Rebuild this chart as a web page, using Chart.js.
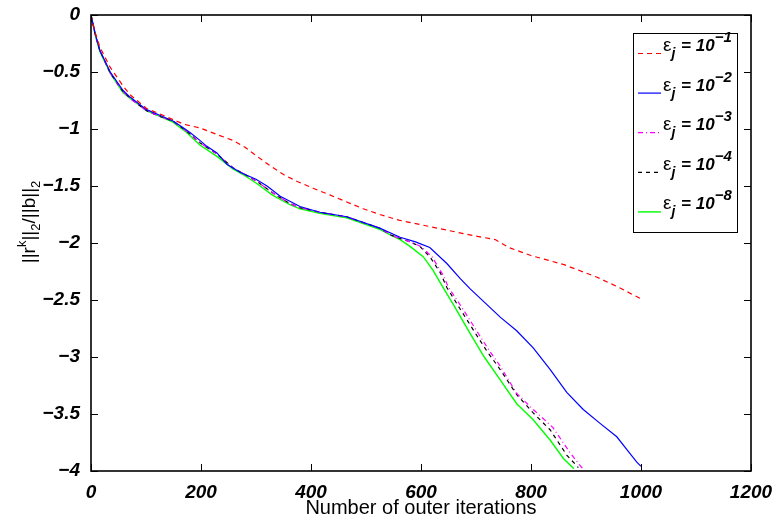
<!DOCTYPE html>
<html lang="en">
<head>
<meta charset="UTF-8">
<title>Relative residual vs outer iterations</title>
<script src="https://cdn.jsdelivr.net/npm/chart.js"></script>
<style>
    body { margin: 0; background: #fff; }
    #wrap { position: relative; width: 776px; height: 531px; }
</style>
</head>
<body>
<div id="wrap"><canvas id="resChart" width="776" height="531"></canvas></div>
<script>
// tick values
const xTicks = [0, 200, 400, 600, 800, 1000, 1200];
const yTicks = [0, -0.5, -1, -1.5, -2, -2.5, -3, -3.5, -4];

// legend exponents (eps_j = 10^-k)
const legendExps = ['1', '2', '3', '4', '8'];

// eps = 1e-1 (red dashed)
const redX = [0, 8, 16, 35, 58, 71, 101, 131, 150, 170, 198, 230, 258, 280, 302, 325, 350, 375, 404, 435, 465, 495, 525, 560, 600, 650, 700, 735, 760, 800, 860, 920, 960, 1000];
const redY = [0, -0.16, -0.28, -0.46, -0.62, -0.70, -0.82, -0.88, -0.92, -0.96, -0.99, -1.05, -1.10, -1.16, -1.24, -1.32, -1.40, -1.46, -1.52, -1.58, -1.64, -1.70, -1.75, -1.80, -1.84, -1.89, -1.94, -1.97, -2.04, -2.11, -2.19, -2.30, -2.39, -2.49];

// eps = 1e-2 (blue)
const blueX = [0, 8, 16, 35, 58, 71, 101, 125, 149, 165, 180, 198, 210, 229, 247, 271, 300, 320, 344, 380, 416, 465, 525, 562, 590, 616, 647, 671, 689, 744, 774, 804, 835, 865, 895, 925, 956, 974, 992, 1000];
const blueY = [0, -0.17, -0.31, -0.50, -0.66, -0.72, -0.83, -0.88, -0.93, -0.98, -1.03, -1.10, -1.15, -1.21, -1.31, -1.38, -1.44, -1.50, -1.59, -1.68, -1.73, -1.77, -1.87, -1.95, -1.99, -2.04, -2.18, -2.31, -2.40, -2.65, -2.77, -2.92, -3.11, -3.31, -3.46, -3.58, -3.70, -3.81, -3.92, -3.96];

// eps = 1e-3 (magenta dash-dot)
const magX = [0, 8, 16, 35, 58, 71, 101, 125, 149, 174, 198, 229, 258, 280, 302, 330, 360, 380, 416, 465, 525, 545, 562, 580, 600, 620, 640, 650, 675, 705, 725, 744, 774, 804, 840, 871, 894];
const magY = [0, -0.18, -0.31, -0.51, -0.67, -0.73, -0.84, -0.89, -0.93, -1.02, -1.12, -1.22, -1.34, -1.40, -1.46, -1.56, -1.65, -1.69, -1.73, -1.77, -1.87, -1.93, -1.96, -1.99, -2.03, -2.12, -2.28, -2.39, -2.57, -2.80, -2.95, -3.08, -3.32, -3.46, -3.62, -3.84, -3.98];

// eps = 1e-4 (black dashed)
const blackX = [0, 8, 16, 35, 58, 71, 101, 125, 149, 174, 198, 229, 258, 280, 302, 330, 360, 380, 416, 465, 525, 545, 562, 580, 598, 616, 635, 647, 670, 700, 720, 744, 774, 804, 835, 865, 886];
const blackY = [0, -0.18, -0.31, -0.51, -0.67, -0.73, -0.84, -0.89, -0.93, -1.02, -1.12, -1.22, -1.34, -1.40, -1.46, -1.56, -1.65, -1.69, -1.73, -1.77, -1.87, -1.93, -1.96, -1.99, -2.03, -2.12, -2.26, -2.39, -2.57, -2.80, -2.95, -3.11, -3.33, -3.49, -3.64, -3.86, -3.97];

// eps = 1e-8 (green)
const greenX = [0, 8, 16, 35, 58, 71, 101, 125, 149, 174, 198, 229, 258, 280, 302, 330, 360, 380, 416, 465, 525, 545, 562, 580, 604, 622, 640, 660, 690, 715, 744, 774, 804, 835, 859, 878];
const greenY = [0, -0.18, -0.32, -0.51, -0.68, -0.73, -0.84, -0.89, -0.94, -1.03, -1.14, -1.24, -1.35, -1.41, -1.48, -1.58, -1.66, -1.70, -1.74, -1.78, -1.88, -1.93, -1.97, -2.03, -2.12, -2.24, -2.39, -2.55, -2.80, -3.00, -3.20, -3.41, -3.55, -3.73, -3.89, -3.98];

const FONT = "'Liberation Sans', Arial, Helvetica, sans-serif";

function pts(xs, ys) {
    return xs.map((x, i) => ({ x: x, y: ys[i] }));
}

function minusFmt(v) {
    return v === 0 ? '0' : '\u2212' + String(Math.abs(v));
}

// draw a run of text pieces with their own font and vertical shift
function drawPieces(ctx, pieces, x, y, center) {
    let w = 0;
    pieces.forEach(p => { ctx.font = p.font; w += ctx.measureText(p.t).width + (p.gap || 0); });
    let cx = center ? x - w / 2 : x;
    pieces.forEach(p => {
        ctx.font = p.font;
        ctx.fillText(p.t, cx, y + (p.dy || 0));
        cx += ctx.measureText(p.t).width + (p.gap || 0);
    });
}

const framePlugin = {
    id: 'frame',
    afterDatasetsDraw(chart) {
        const ctx = chart.ctx;
        const a = chart.chartArea;
        const xs = chart.scales.x, ys = chart.scales.y;
        ctx.save();
        ctx.strokeStyle = '#000';
        ctx.lineWidth = 1.6;
        ctx.setLineDash([]);
        ctx.strokeRect(a.left, a.top, a.right - a.left, a.bottom - a.top);

        // inward ticks on all four sides
        ctx.lineWidth = 1;
        ctx.beginPath();
        xTicks.forEach(v => {
            const px = Math.round(xs.getPixelForValue(v)) + 0.5;
            ctx.moveTo(px, a.bottom); ctx.lineTo(px, a.bottom - 7);
            ctx.moveTo(px, a.top); ctx.lineTo(px, a.top + 7);
        });
        yTicks.forEach(v => {
            const py = Math.round(ys.getPixelForValue(v)) + 0.5;
            ctx.moveTo(a.left, py); ctx.lineTo(a.left + 7, py);
            ctx.moveTo(a.right, py); ctx.lineTo(a.right - 7, py);
        });
        ctx.stroke();

        // x title
        ctx.fillStyle = '#000';
        ctx.textAlign = 'center';
        ctx.textBaseline = 'middle';
        ctx.font = '20px ' + FONT;
        ctx.fillText('Number of outer iterations', (a.left + a.right) / 2, 508);

        // y title, rotated
        ctx.save();
        ctx.translate(28, 222);
        ctx.rotate(-Math.PI / 2);
        ctx.textAlign = 'left';
        ctx.textBaseline = 'alphabetic';
        const big = '19px ' + FONT, small = '13px ' + FONT;
        drawPieces(ctx, [
            { t: '||r', font: big },
            { t: 'k', font: small, dy: -9 },
            { t: '||', font: big },
            { t: '2', font: small, dy: 5 },
            { t: '/||b||', font: big },
            { t: '2', font: small, dy: 5 }
        ], 0, 7, true);
        ctx.restore();

        // legend box
        const lx = 633, ly = 33, lw = 104, lh = 199;
        ctx.fillStyle = '#fff';
        ctx.fillRect(lx, ly, lw, lh);
        ctx.strokeStyle = '#000';
        ctx.lineWidth = 1;
        ctx.strokeRect(lx + 0.5, ly + 0.5, lw, lh);
        chart.data.datasets.forEach((ds, i) => {
            const base = 51 + i * 39.6;
            ctx.strokeStyle = ds.borderColor;
            ctx.lineWidth = ds.borderWidth;
            ctx.setLineDash(ds.borderDash || []);
            ctx.beginPath();
            ctx.moveTo(638, base + 2.5);
            ctx.lineTo(661, base + 2.5);
            ctx.stroke();
            ctx.setLineDash([]);
            ctx.fillStyle = '#000';
            ctx.textAlign = 'left';
            ctx.textBaseline = 'alphabetic';
            drawPieces(ctx, [
                { t: '\u03b5', font: '19px ' + FONT },
                { t: 'j', font: 'italic bold 14px ' + FONT, dy: 7, gap: 1 },
                { t: ' = 10', font: 'italic bold 17px ' + FONT },
                { t: '\u2212' + legendExps[i], font: 'italic bold 15px ' + FONT, dy: -9 }
            ], 663, base, false);
        });
        ctx.restore();
    }
};

const tickFont = { family: FONT, size: 19, weight: 'bold', style: 'italic' };

new Chart(document.getElementById('resChart'), {
    type: 'line',
    data: {
        datasets: [
            { label: 'eps 1e-1', data: pts(redX, redY), borderColor: '#ff0000', borderWidth: 1.2, borderDash: [5, 4] },
            { label: 'eps 1e-2', data: pts(blueX, blueY), borderColor: '#0000ff', borderWidth: 1.2 },
            { label: 'eps 1e-3', data: pts(magX, magY), borderColor: '#ff00ff', borderWidth: 1.2, borderDash: [5, 3, 1, 3] },
            { label: 'eps 1e-4', data: pts(blackX, blackY), borderColor: '#000000', borderWidth: 1.2, borderDash: [4, 4] },
            { label: 'eps 1e-8', data: pts(greenX, greenY), borderColor: '#00ff00', borderWidth: 1.4 }
        ]
    },
    options: {
        responsive: false,
        animation: false,
        devicePixelRatio: 1,
        layout: { padding: { left: 0, top: 15, right: 25, bottom: 0 } },
        elements: { point: { radius: 0 }, line: { tension: 0 } },
        plugins: { legend: { display: false }, tooltip: { enabled: false } },
        scales: {
            x: {
                type: 'linear',
                min: 0,
                max: 1200,
                afterBuildTicks: s => { s.ticks = xTicks.map(v => ({ value: v })); },
                afterFit: s => { s.height = 60; },
                grid: { display: false },
                border: { display: false },
                ticks: { font: tickFont, color: '#000', padding: 2, maxRotation: 0, callback: v => String(v) }
            },
            y: {
                type: 'linear',
                min: -4,
                max: 0,
                afterBuildTicks: s => { s.ticks = yTicks.map(v => ({ value: v })); },
                afterFit: s => { s.width = 91; },
                grid: { display: false },
                border: { display: false },
                ticks: { font: tickFont, color: '#000', padding: 3, callback: v => minusFmt(v) }
            }
        }
    },
    plugins: [framePlugin]
});
</script>
</body>
</html>
